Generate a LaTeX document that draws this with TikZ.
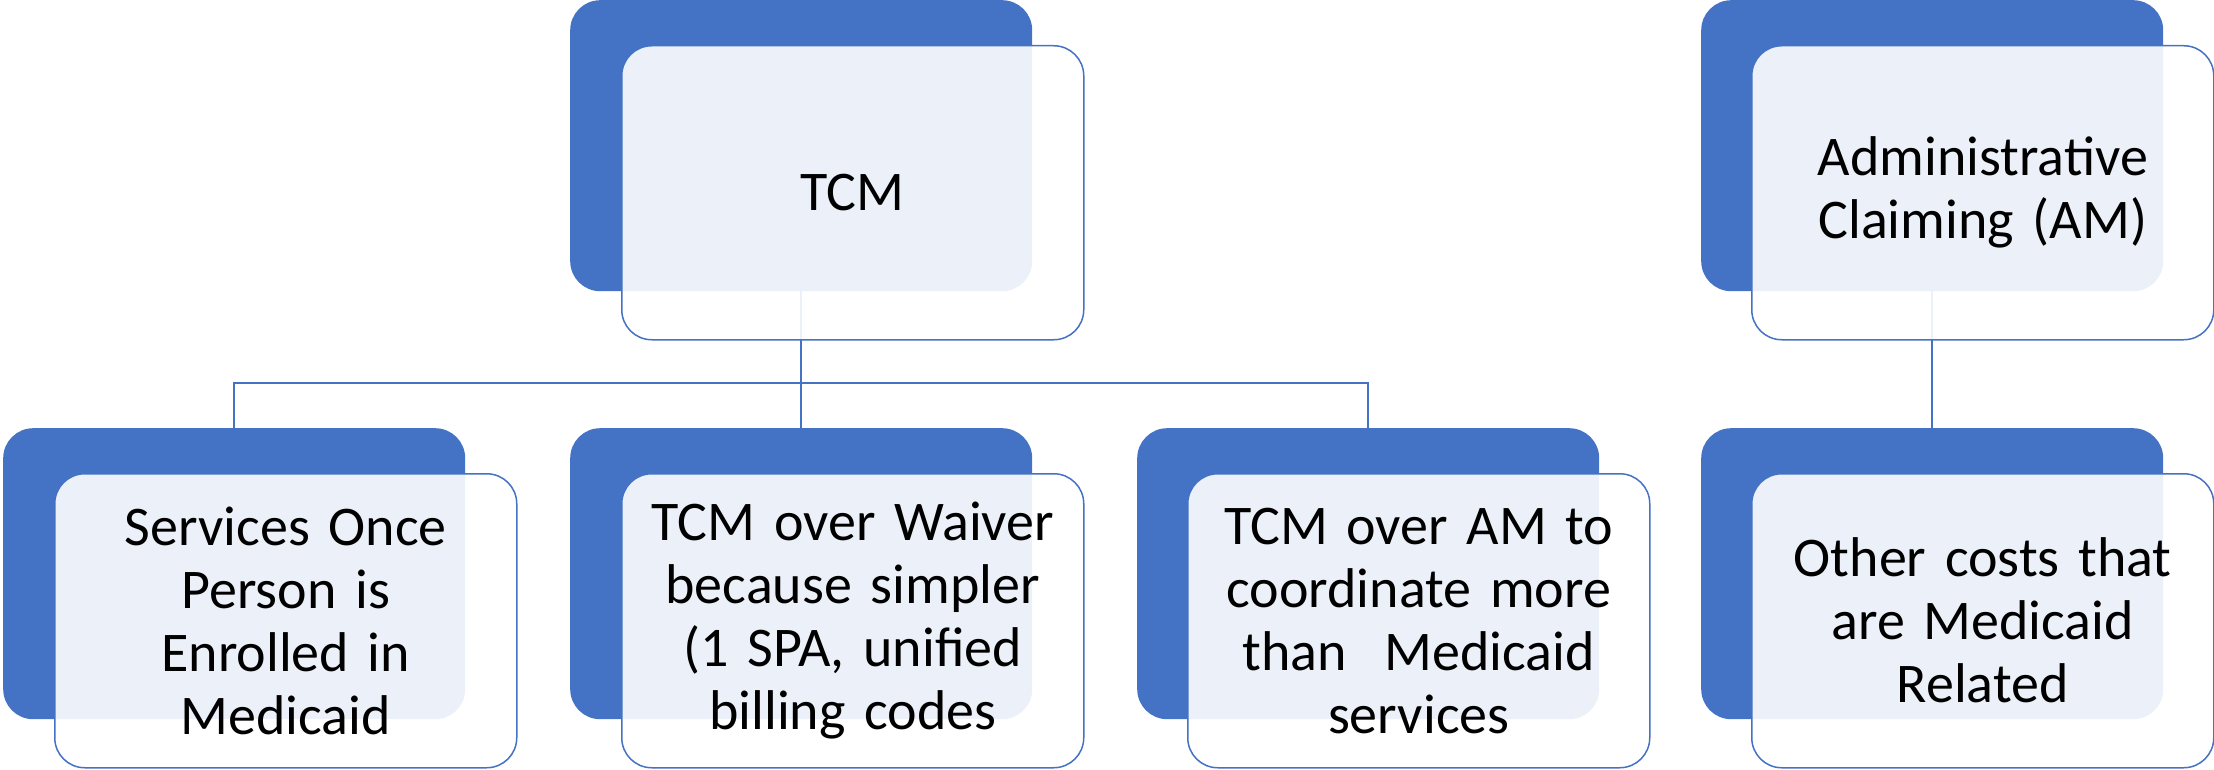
\documentclass[tikz,border=0pt]{standalone}
\usepackage{fontspec}
\setmainfont{Carlito}
\definecolor{acc}{HTML}{4472C4}
\begin{document}
\begin{tikzpicture}[x=1pt,y=-1pt,
  back/.style={draw=none,fill=acc,rounded corners=30pt,minimum width=462pt,minimum height=291pt,inner sep=0pt,anchor=north west},
  front/.style={draw=acc,line width=1.5pt,fill=white,fill opacity=0.9,text opacity=1,rounded corners=30pt,minimum width=462pt,minimum height=294pt,inner sep=0pt,anchor=north west,align=center,text width=440pt,font=\fontsize{56}{63}\selectfont},
  conn/.style={draw=acc,line width=2pt}]
\useasboundingbox (0,0) rectangle (2214,770);
% back boxes
\node[back] (tcmb) at (570,0) {};
\node[back] (admb) at (1701,0) {};
\node[back] (c1b) at (3,428) {};
\node[back] (c2b) at (570,428) {};
\node[back] (c3b) at (1137,428) {};
\node[back] (c4b) at (1701,428) {};
% connectors
\coordinate (h) at (0,383);
\draw[conn] (tcmb.south) -- (tcmb.south |- h) -| (c1b.north);
\draw[conn] (tcmb.south) -- (c2b.north);
\draw[conn] (tcmb.south) -- (tcmb.south |- h) -| (c3b.north);
\draw[conn] (admb.south) -- (c4b.north);
% front boxes
\node[front] (tcmf) at (621,45) {TCM};
\node[front] (admf) at (1751,45) {Administrative\\Claiming (AM)};
\node[front] (c1f) at (54,473) {Services Once\\Person is\\Enrolled in\\Medicaid};
\node[front] (c2f) at (621,473) {TCM over Waiver\\because simpler\\(1 SPA, unified\\billing codes};
\node[front] (c3f) at (1187,473) {TCM over AM to\\coordinate more\\than~~Medicaid\\services};
\node[front] (c4f) at (1751,473) {Other costs that\\are Medicaid\\Related};
\end{tikzpicture}
\end{document}
